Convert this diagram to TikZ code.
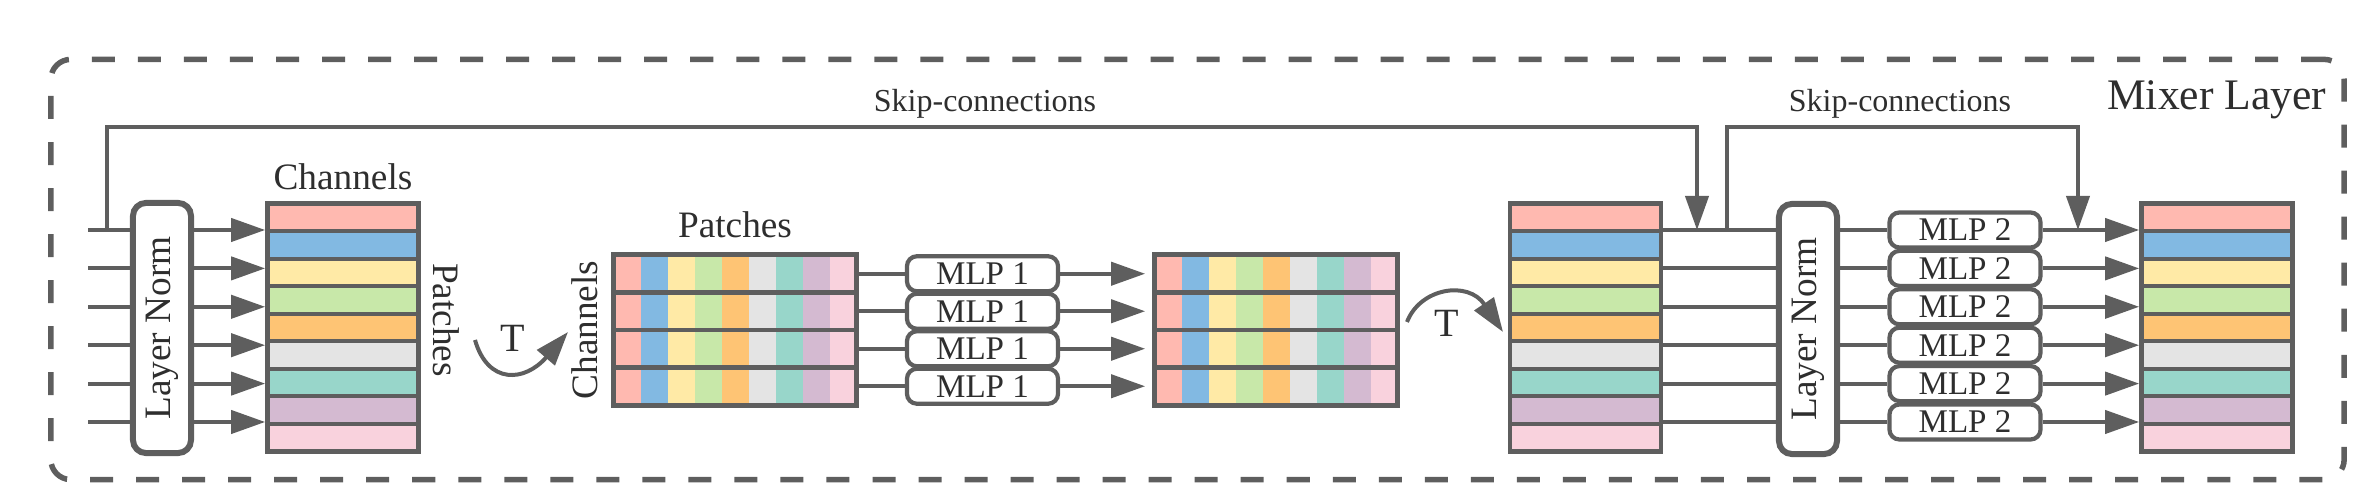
\documentclass[tikz,border=0pt]{standalone}
\usepackage{fontspec}
\setmainfont{Liberation Serif}
\usetikzlibrary{arrows.meta}
\definecolor{ln}{HTML}{5E5E5E}
\definecolor{tx}{HTML}{2E2E2E}
\definecolor{cA}{HTML}{FFB9B0}
\definecolor{cB}{HTML}{82B9E2}
\definecolor{cC}{HTML}{FFEAA6}
\definecolor{cD}{HTML}{C8E8A9}
\definecolor{cE}{HTML}{FEC474}
\definecolor{cF}{HTML}{E4E4E4}
\definecolor{cG}{HTML}{98D6CA}
\definecolor{cH}{HTML}{D4BAD1}
\definecolor{cI}{HTML}{F9D2DD}
\newcommand{\mkstack}[2]{%
  \foreach \c [count=\i] in {cA,cB,cC,cD,cE,cF,cG,cH,cI}
    \node[stripe, fill=\c] (#1-\i) at (#2, {203.75+27.5*\i-13.75}) {};
  \node[sframe] (#1) at (#2, 327.5) {};
}
\newcommand{\mkmatrix}[2]{%
  \foreach \c [count=\j from 0] in {cA,cB,cC,cD,cE,cF,cG,cH,cI}
    \fill[\c] ({#2-121.5+27*\j}, 255) rectangle ++(27,150);
  \foreach \k in {1,...,4}
    \node[mrow] (#1-\k) at (#2, {255+37.5*\k-18.75}) {};
  \node[mframe] (#1) at (#2, 330) {};
}
\begin{document}
\begin{tikzpicture}[x=0.01cm, y=-0.01cm,
  conn/.style={draw=ln, line width=0.04cm},
  arr/.style={conn, -{Triangle[length=0.34cm,width=0.23cm]}},
  lbl/.style={text=tx, font=\fontsize{10.6}{12}\selectfont, inner sep=0},
  tlbl/.style={text=tx, font=\fontsize{11.4}{13}\selectfont, inner sep=0},
  skl/.style={text=tx, font=\fontsize{9.1}{11}\selectfont, inner sep=0},
  mxl/.style={text=tx, font=\fontsize{12.4}{15}\selectfont, inner sep=0},
  lnbox/.style={draw=ln, fill=white, line width=0.06cm, rounded corners=0.13cm,
    minimum width=0.58cm, minimum height=2.5cm, inner sep=0},
  mlpbox/.style={draw=ln, fill=white, line width=0.042cm, rounded corners=0.1cm,
    minimum width=1.51cm, minimum height=0.35cm, inner sep=0, text=tx,
    font=\fontsize{9.4}{10}\selectfont},
  stripe/.style={draw=ln, line width=0.04cm, minimum width=1.51cm,
    minimum height=0.275cm, inner sep=0},
  sframe/.style={draw=ln, line width=0.045cm, minimum width=1.51cm,
    minimum height=2.475cm, inner sep=0},
  mrow/.style={draw=ln, line width=0.045cm, minimum width=2.43cm,
    minimum height=0.375cm, inner sep=0},
  mframe/.style={draw=ln, line width=0.05cm, minimum width=2.43cm,
    minimum height=1.5cm, inner sep=0},
  frame/.style={draw=ln, line width=0.055cm, rounded corners=0.2cm,
    dash pattern=on 0.23cm off 0.23cm, minimum width=22.92cm,
    minimum height=4.2cm, inner sep=0}
]
\useasboundingbox (0,0) rectangle (2377,504);

% outer dashed frame
\node[frame] (mixer) at (1197.5,269.5) {};
\node[mxl, anchor=base east] (mixlbl) at (2327,110) {Mixer Layer};

% row coordinates
\foreach \k/\y in {0/230,1/268.4,2/306.8,3/345.2,4/383.6,5/422}{
  \coordinate (row-\k) at (0,\y);
  \coordinate (in-\k) at (88,\y);
}

% first layer norm
\node[lnbox] (LN1) at (162,328) {};
\node[lbl, rotate=90] (LN1t) at (LN1.center) {Layer Norm};
\foreach \k in {0,...,5}
  \draw[conn] (in-\k) -- (LN1.west |- row-\k);

% stacks
\mkstack{S0}{343}
\mkstack{S3}{1585.5}
\mkstack{S4}{2217}

\foreach \k in {0,...,5}
  \draw[arr] (LN1.east |- row-\k) -- (S0.west |- row-\k);

\node[lbl, anchor=base] (chanA) at (343,190) {Channels};
\node[lbl, rotate=-90, anchor=base] (patA) at (433,320) {Patches};

% transpose 1
\coordinate (t1s) at (475,340);
\coordinate (t1e) at (568,332);
\draw[arr] (t1s) .. controls (488,385) and (525,382) .. (t1e);
\node[tlbl] (t1) at (513,338) {T};

% token mixing matrices
\mkmatrix{M1}{735}
\mkmatrix{M2}{1276}
\node[lbl, anchor=base] (patB) at (735,238) {Patches};
\node[lbl, rotate=90, anchor=base] (chanB) at (597,330) {Channels};

\foreach \k in {1,...,4}{
  \node[mlpbox] (m1-\k) at (982.5, {255+37.5*\k-18.75}) {MLP 1};
}
\foreach \k in {1,...,4}{
  \draw[conn] (M1-\k.east) -- (m1-\k.west);
  \draw[arr, shorten >=0.07cm] (m1-\k.east) -- (M2-\k.west);
}

% transpose 2
\coordinate (t2s) at (1407,322);
\coordinate (t2e) at (1503,332);
\draw[arr] (t2s) .. controls (1420,288) and (1468,280) .. (t2e);
\node[tlbl] (t2) at (1447,323) {T};

% second layer norm and channel MLPs
\node[lnbox] (LN2) at (1808,329) {};
\node[lbl, rotate=90] (LN2t) at (LN2.center) {Layer Norm};
\foreach \k in {0,...,5}
  \draw[conn] (S3.east |- row-\k) -- (LN2.west |- row-\k);
\foreach \k/\y in {0/230,1/268.4,2/306.8,3/345.2,4/383.6,5/422}
  \node[mlpbox] (m2-\k) at (1965,\y) {MLP 2};
\foreach \k in {0,...,5}{
  \draw[conn] (LN2.east |- row-\k) -- (m2-\k.west);
  \draw[arr] (m2-\k.east) -- (S4.west |- row-\k);
}

% skip connections
\coordinate (sk1s) at (107,230);
\coordinate (sk1t) at (1697,127);
\coordinate (sk1e) at (1697,230);
\draw[arr] (sk1s) |- (sk1t) -- (sk1e);
\node[skl, anchor=base] (sk1l) at (985,112) {Skip-connections};

\coordinate (sk2s) at (1727,230);
\coordinate (sk2t) at (2078,127);
\coordinate (sk2e) at (2078,230);
\draw[arr] (sk2s) |- (sk2t) -- (sk2e);
\node[skl, anchor=base] (sk2l) at (1900,112) {Skip-connections};
\end{tikzpicture}
\end{document}
